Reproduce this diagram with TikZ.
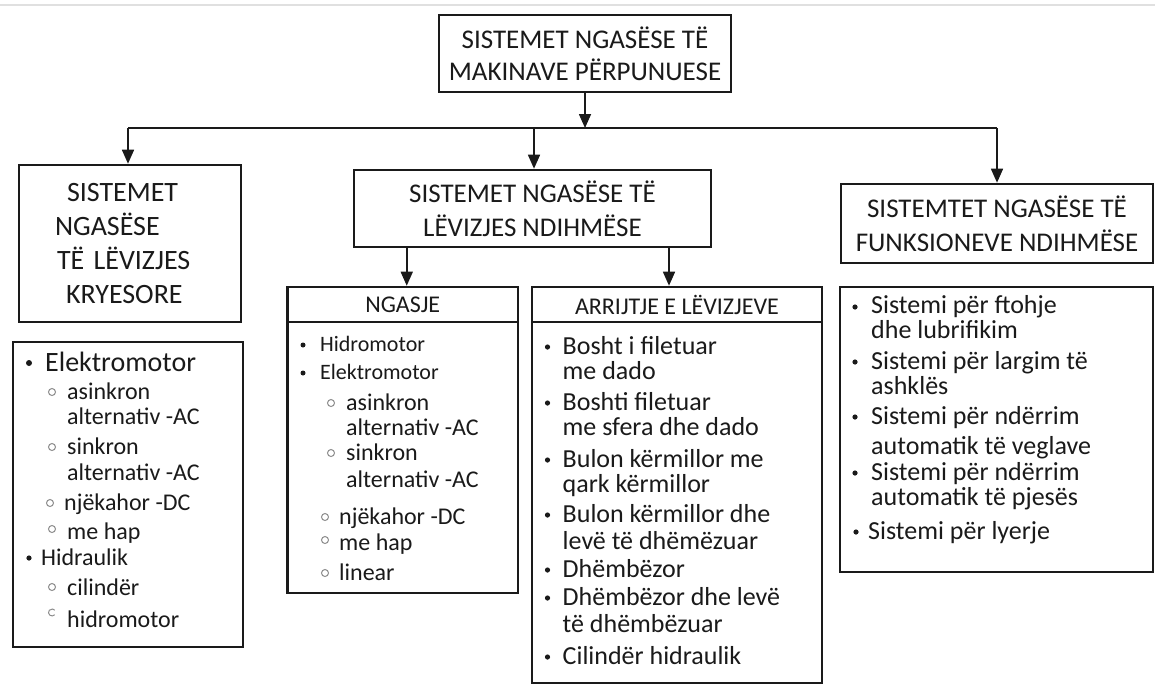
\documentclass[tikz,border=0pt]{standalone}
\usepackage{fontspec}
\setmainfont{Carlito}
\usetikzlibrary{arrows.meta}
\definecolor{ink}{HTML}{1A1A1A}
\definecolor{subc}{HTML}{8C8C8C}
\begin{document}
\begin{tikzpicture}[x=1pt,y=-1pt,
  box/.style={draw=ink,line width=2.6pt,rectangle,inner sep=0pt,fill=white},
  hdr/.style={box,align=center,text=ink,font=\fontsize{27}{34}\selectfont},
  subhdr/.style={box,align=center,text=ink,font=\fontsize{24}{28}\selectfont},
  item/.style={anchor=base west,yshift=-7.5pt,inner sep=0pt,text=ink,font=\fontsize{26}{26}\selectfont},
  sitem/.style={item,yshift=0.5pt,font=\fontsize{24}{24}\selectfont},
  bitem/.style={item,yshift=-1pt,font=\fontsize{28}{28}\selectfont},
  nitem/.style={item,yshift=1pt,font=\fontsize{22}{22}\selectfont},
  conn/.style={draw=ink,line width=1.6pt},
  arr/.style={conn,-{Triangle[length=14pt,width=12pt]}},
  dot/.style={fill=ink},
  ring/.style={draw=subc,line width=1pt},
]
\useasboundingbox (0,0) rectangle (1155,686);
\fill[white] (0,0) rectangle (1155,686);
\draw[black!12,line width=1.5pt] (0,5) -- (1155,5);

% header boxes
\node[hdr,minimum width=292pt,minimum height=77pt,font=\fontsize{27}{32}\selectfont] (top) at (585,53.5) {SISTEMET NGASËSE TË\\MAKINAVE PËRPUNUESE};
\node[hdr,minimum width=222pt,minimum height=157pt,align=left,text width=150pt,font=\fontsize{28}{34}\selectfont] (left) at (130,243.5)
  {\hspace*{12pt}SISTEMET\\NGASËSE\\\hspace*{2pt}TË LËVIZJES\\\hspace*{11pt}KRYESORE};
\node[hdr,minimum width=357pt,minimum height=77pt] (mid) at (532.5,208.5) {SISTEMET NGASËSE TË\\LËVIZJES NDIHMËSE};
\node[hdr,minimum width=312pt,minimum height=79pt] (right) at (997,223.5) {SISTEMTET NGASËSE TË\\FUNKSIONEVE NDIHMËSE};

% list boxes
\node[box,minimum width=230pt,minimum height=305pt] (leftlist) at (128,494.5) {};
\node[subhdr,minimum width=230.5pt,minimum height=35pt] (ngh) at (402.75,304.5) {NGASJE};
\node[box,minimum width=230.5pt,minimum height=271pt] (ngb) at (402.75,457.5) {};
\node[subhdr,minimum width=290pt,minimum height=35pt] (arh) at (677,304.5) {ARRIJTJE E LËVIZJEVE};
\node[box,minimum width=290pt,minimum height=361pt] (arb) at (677,502.5) {};
\node[box,minimum width=313pt,minimum height=285pt] (rightlist) at (996.5,429.5) {};

% connectors
\coordinate (j) at (585,128);
\draw[arr] (top.south) -- (j);
\draw[conn] ([xshift=-2pt]left.north |- j) -- (right.north |- j);
\draw[arr] ([xshift=-2pt]left.north |- j) -- ([xshift=-2pt]left.north);
\draw[arr] ([xshift=1.5pt]mid.north |- j) -- ([xshift=1.5pt]mid.north);
\draw[arr] (right.north |- j) -- (right.north);
\draw[arr] ([xshift=4pt]ngh.north |- mid.south) -- ([xshift=4pt]ngh.north);
\draw[arr] ([xshift=-8pt]arh.north |- mid.south) -- ([xshift=-8pt]arh.north);

% left list
\fill[dot] (29,363) circle (3);
\node[bitem] (l1) at (45,363) {Elektromotor};
\draw[ring] (52,392) circle (3.5);
\node[sitem] (l2) at (67,392) {asinkron};
\node[sitem] (l3) at (67,417) {alternativ -AC};
\draw[ring] (52,447) circle (3.5);
\node[sitem] (l4) at (67,447) {sinkron};
\node[sitem] (l5) at (67,473) {alternativ -AC};
\draw[ring] (50,503) circle (3.5);
\node[sitem] (l6) at (64,503) {njëkahor -DC};
\draw[ring] (52,529) circle (3.5);
\node[sitem] (l7) at (67,532) {me hap};
\fill[dot] (29,558) circle (2.6);
\node[sitem] (l8) at (41,558) {Hidraulik};
\draw[ring] (52,587) circle (3.5);
\node[sitem] (l9) at (67,588) {cilindër};
\draw[ring] (54.7,614.7) arc (40:320:3.5);
\node[sitem] (l10) at (67,620) {hidromotor};

% NGASJE list
\fill[dot] (303,345) circle (2.5);
\node[nitem] (n1) at (320,345) {Hidromotor};
\fill[dot] (303,373) circle (2.5);
\node[nitem] (n2) at (320,373) {Elektromotor};
\draw[ring] (331,403) circle (3.5);
\node[sitem] (n3) at (346,403) {asinkron};
\node[sitem] (n4) at (346,428) {alternativ -AC};
\draw[ring] (331,453) circle (3.5);
\node[sitem] (n5) at (346,453) {sinkron};
\node[sitem] (n6) at (346,480) {alternativ -AC};
\draw[ring] (325,517) circle (3.5);
\node[sitem] (n7) at (339,517) {njëkahor -DC};
\draw[ring] (325,540) circle (3.5);
\node[sitem] (n8) at (339,543) {me hap};
\draw[ring] (325,573) circle (3.5);
\node[sitem] (n9) at (339,573) {linear};

% ARRIJTJE list
\foreach \yy in {347,403,460,515,570,598,657} \fill[dot] (547.5,\yy) circle (2.6);
\foreach \yy/\txt [count=\i] in {347/Bosht i filetuar,372/me dado,403/Boshti filetuar,428/me sfera dhe dado,460/Bulon kërmillor me,485/qark kërmillor,515/Bulon kërmillor dhe,542/levë të dhëmëzuar,570/Dhëmbëzor,598/Dhëmbëzor dhe levë,625/të dhëmbëzuar,657/Cilindër hidraulik}
  \node[item,name=a\i] at (562.5,\yy) {\txt};

% right list
\foreach \yy in {307,362,417,473} \fill[dot] (855,\yy) circle (2.6);
\fill[dot] (856,532) circle (2.6);
\foreach \yy/\txt [count=\i] in {306/Sistemi për ftohje,331/dhe lubrifikim,362/Sistemi për largim të,387/ashklës,417/Sistemi për ndërrim,447/automatik të veglave,473/Sistemi për ndërrim,498/automatik të pjesës}
  \node[item,name=r\i] at (871,\yy) {\txt};
\node[item] (r9) at (868,532) {Sistemi për lyerje};
\end{tikzpicture}
\end{document}
